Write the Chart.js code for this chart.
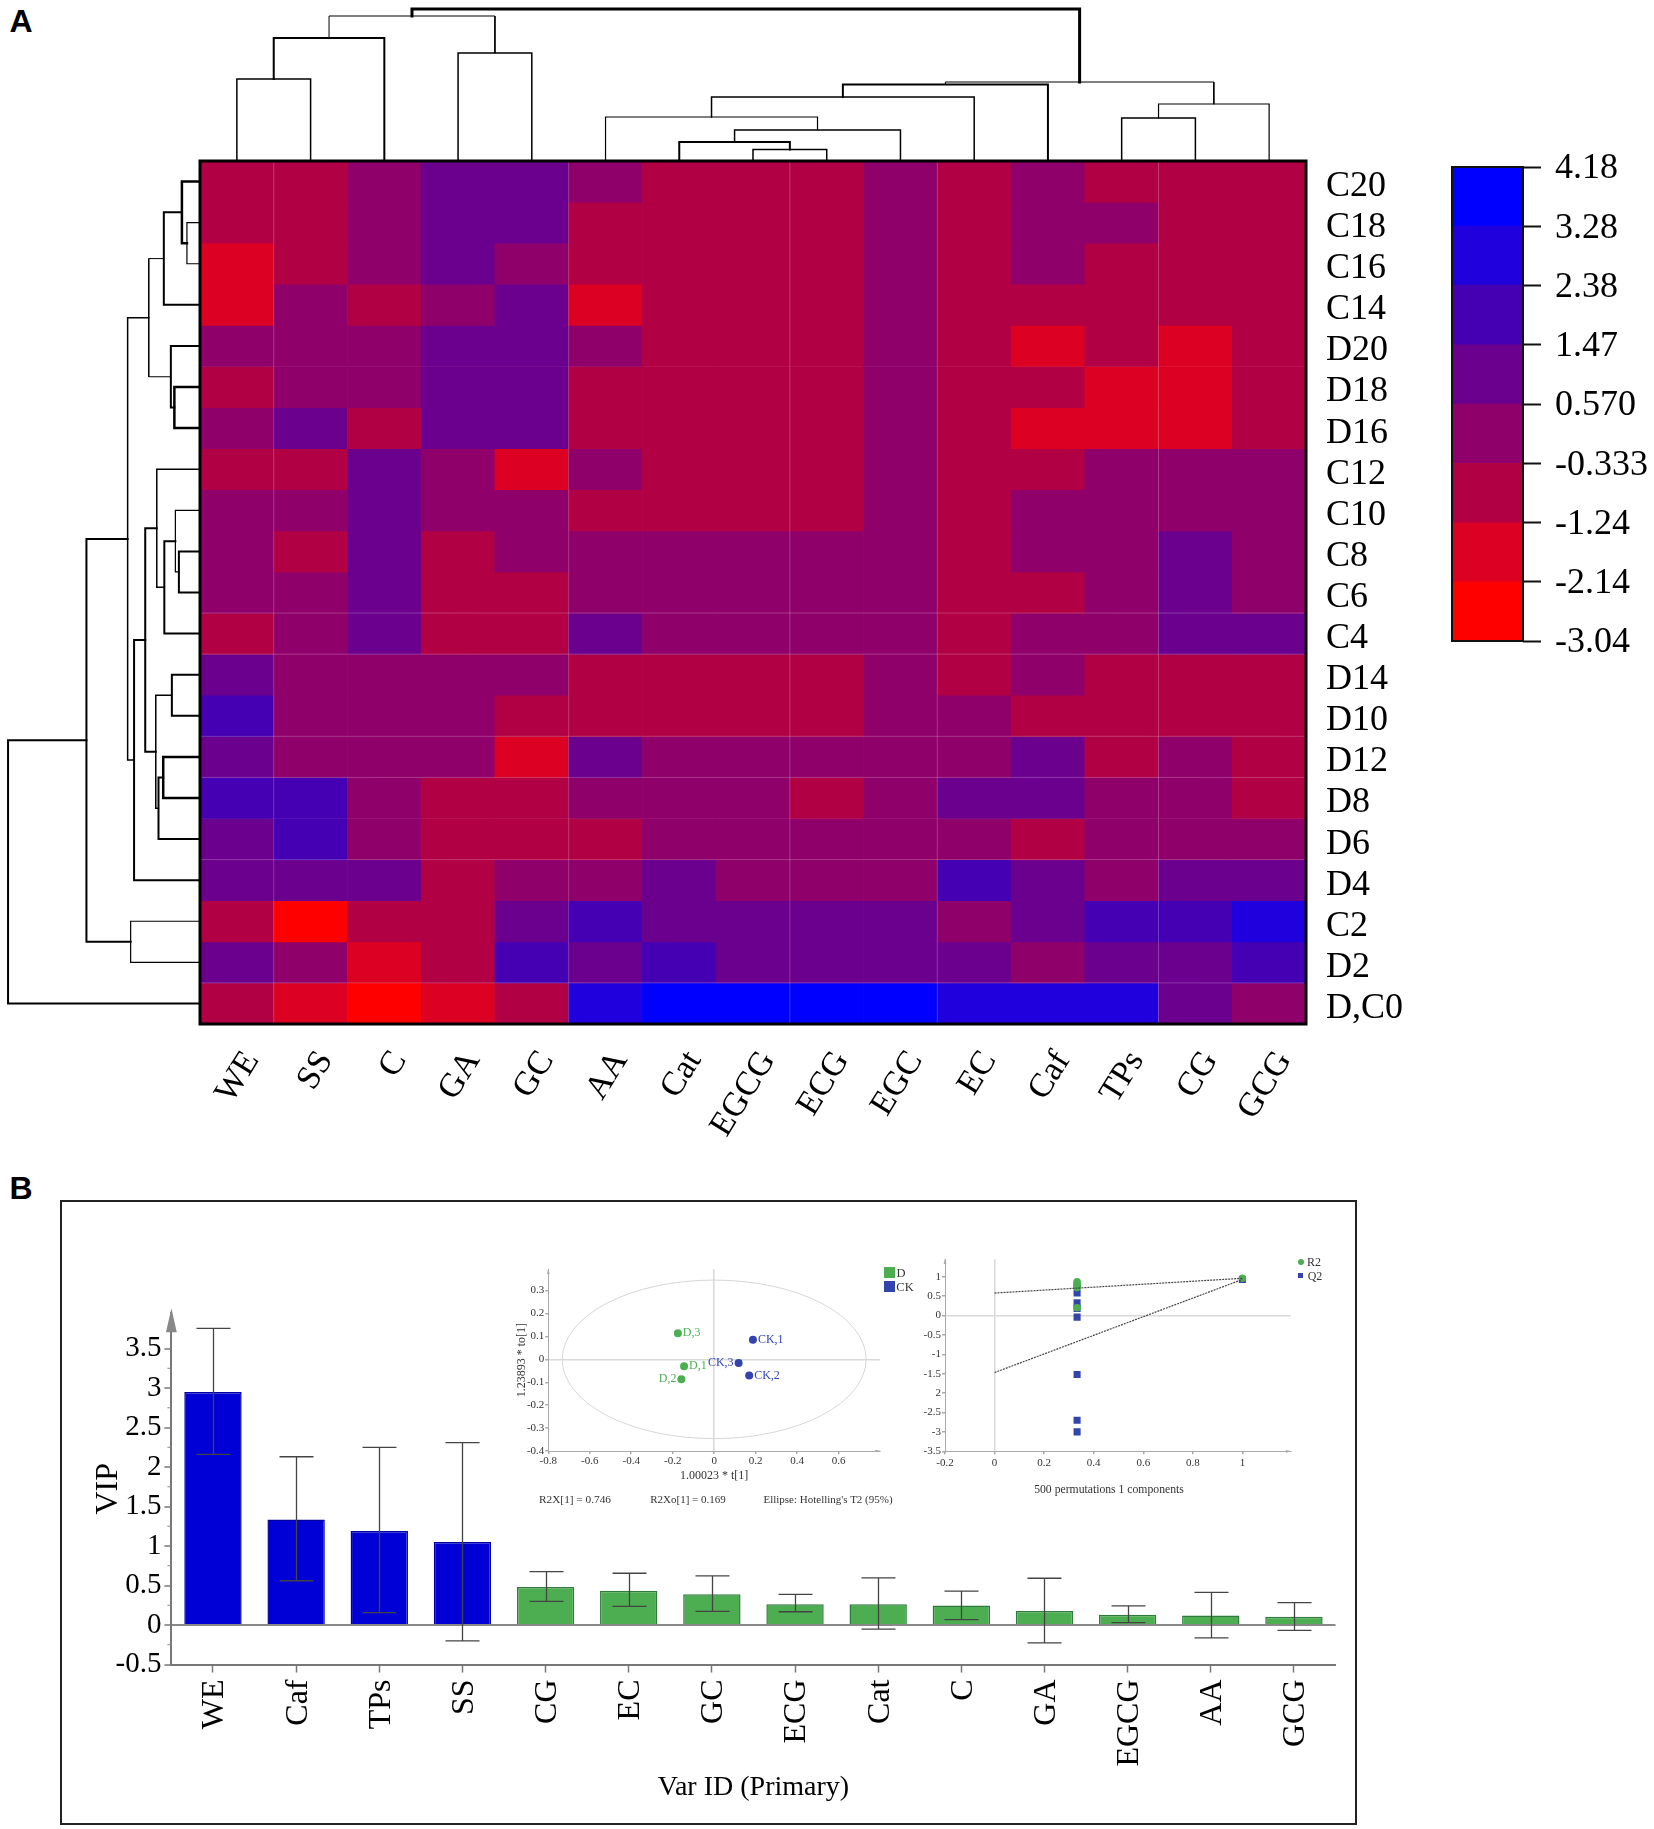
<!DOCTYPE html>
<html>
<head>
<meta charset="utf-8">
<title>Heatmap and VIP</title>
<style>
  html, body { margin: 0; padding: 0; background: #fff; }
  #page { position: relative; width: 1654px; height: 1829px; overflow: hidden; background: #fff; }
  #page canvas { position: absolute; }
  .txt { position: absolute; white-space: nowrap; transform: translate(-50%, -50%); }
  .box { position: absolute; }
</style>
<script src="https://cdn.jsdelivr.net/npm/chart.js@4/dist/chart.umd.js"></script>
</head>
<body>
<div id="page"></div>
<script>
// panel A data
const colLabels = ["WE", "SS", "C", "GA", "GC", "AA", "Cat", "EGCG", "ECG", "EGC", "EC", "Caf", "TPs", "CG", "GCG"];
const rowLabels = ["C20", "C18", "C16", "C14", "D20", "D18", "D16", "C12", "C10", "C8", "C6", "C4", "D14", "D10", "D12", "D8", "D6", "D4", "C2", "D2", "D,C0"];
// cell values, estimated from the colour bin each cell falls in
const heatValues = [
  [-0.8, -0.8, 0.1, 1, 1, 0.1, -0.8, -0.8, -0.8, 0.1, -0.8, 0.1, -0.8, -0.8, -0.8],
  [-0.8, -0.8, 0.1, 1, 1, -0.8, -0.8, -0.8, -0.8, 0.1, -0.8, 0.1, 0.1, -0.8, -0.8],
  [-1.7, -0.8, 0.1, 1, 0.1, -0.8, -0.8, -0.8, -0.8, 0.1, -0.8, 0.1, -0.8, -0.8, -0.8],
  [-1.7, 0.1, -0.8, 0.1, 1, -1.7, -0.8, -0.8, -0.8, 0.1, -0.8, -0.8, -0.8, -0.8, -0.8],
  [0.1, 0.1, 0.1, 1, 1, 0.1, -0.8, -0.8, -0.8, 0.1, -0.8, -1.7, -0.8, -1.7, -0.8],
  [-0.8, 0.1, 0.1, 1, 1, -0.8, -0.8, -0.8, -0.8, 0.1, -0.8, -0.8, -1.7, -1.7, -0.8],
  [0.1, 1, -0.8, 1, 1, -0.8, -0.8, -0.8, -0.8, 0.1, -0.8, -1.7, -1.7, -1.7, -0.8],
  [-0.8, -0.8, 1, 0.1, -1.7, 0.1, -0.8, -0.8, -0.8, 0.1, -0.8, -0.8, 0.1, 0.1, 0.1],
  [0.1, 0.1, 1, 0.1, 0.1, -0.8, -0.8, -0.8, -0.8, 0.1, -0.8, 0.1, 0.1, 0.1, 0.1],
  [0.1, -0.8, 1, -0.8, 0.1, 0.1, 0.1, 0.1, 0.1, 0.1, -0.8, 0.1, 0.1, 1, 0.1],
  [0.1, 0.1, 1, -0.8, -0.8, 0.1, 0.1, 0.1, 0.1, 0.1, -0.8, -0.8, 0.1, 1, 0.1],
  [-0.8, 0.1, 1, -0.8, -0.8, 1, 0.1, 0.1, 0.1, 0.1, -0.8, 0.1, 0.1, 1, 1],
  [1, 0.1, 0.1, 0.1, 0.1, -0.8, -0.8, -0.8, -0.8, 0.1, -0.8, 0.1, -0.8, -0.8, -0.8],
  [1.9, 0.1, 0.1, 0.1, -0.8, -0.8, -0.8, -0.8, -0.8, 0.1, 0.1, -0.8, -0.8, -0.8, -0.8],
  [1, 0.1, 0.1, 0.1, -1.7, 1, 0.1, 0.1, 0.1, 0.1, 0.1, 1, -0.8, 0.1, -0.8],
  [1.9, 1.9, 0.1, -0.8, -0.8, 0.1, 0.1, 0.1, -0.8, 0.1, 1, 1, 0.1, 0.1, -0.8],
  [1, 1.9, 0.1, -0.8, -0.8, -0.8, 0.1, 0.1, 0.1, 0.1, 0.1, -0.8, 0.1, 0.1, 0.1],
  [1, 1, 1, -0.8, 0.1, 0.1, 1, 0.1, 0.1, 0.1, 1.9, 1, 0.1, 1, 1],
  [-0.8, -2.6, -0.8, -0.8, 1, 1.9, 1, 1, 1, 1, 0.1, 1, 1.9, 1.9, 2.8],
  [1, 0.1, -1.7, -0.8, 1.9, 1, 1.9, 1, 1, 1, 1, 0.1, 1, 1, 1.9],
  [-0.8, -1.7, -2.6, -1.7, -0.8, 2.8, 3.7, 3.7, 3.7, 3.7, 2.8, 2.8, 2.8, 1, 0.1]
];
const binEdges = [-3.04, -2.14, -1.24, -0.333, 0.57, 1.47, 2.38, 3.28, 4.18];
const binLabels = ["-3.04", "-2.14", "-1.24", "-0.333", "0.570", "1.47", "2.38", "3.28", "4.18"];
const binColors = ["#ff0000", "#dc0022", "#b20045", "#90006a", "#6c008e", "#4400b2", "#2000dc", "#0000ff"];
const heatLineCols = [1, 5, 8, 10, 13];
const heatLineRows = [11, 12, 14, 15, 17, 20];

// dendrograms: [a, b, height], ids past the leaf count point to earlier merges
const topMerges = [
  [7, 8, 11.5], [6, 15, 19], [16, 9, 31], [5, 17, 44], [18, 10, 64], [19, 11, 76.6],
  [12, 13, 43], [21, 14, 57], [20, 22, 79], [0, 1, 82], [24, 2, 123], [3, 4, 108],
  [25, 26, 145], [27, 23, 152]
];
const topWidths = [1.5, 2, 1.5, 1.2, 1.5, 2, 1.5, 1.2, 1, 1.5, 2, 1.5, 1, 3];
const leftMerges = [
  [1, 2, 13], [0, 21, 18], [22, 3, 36], [5, 6, 25.5], [4, 24, 29], [23, 25, 51],
  [9, 10, 21], [8, 27, 24.5], [28, 11, 35.5], [7, 29, 43], [12, 13, 28], [14, 15, 36.6],
  [32, 16, 41.3], [31, 33, 44], [30, 34, 54.5], [35, 17, 65.6], [26, 36, 72], [18, 19, 69],
  [37, 38, 113], [39, 20, 191]
];
const leftWidths = [1.2, 2.5, 2, 2.5, 2, 1, 2, 1.2, 2, 1.5, 2, 2.5, 2, 1.5, 2, 2, 1.5, 1.2, 2, 2];

// panel B data
const vipLabels = ["WE", "Caf", "TPs", "SS", "CG", "EC", "GC", "ECG", "Cat", "C", "GA", "EGCG", "AA", "GCG"];
const vipValues = [2.95, 1.336, 1.19, 1.05, 0.48, 0.435, 0.39, 0.262, 0.262, 0.246, 0.178, 0.131, 0.12, 0.105];
const vipHigh = [3.756, 2.13, 2.25, 2.31, 0.676, 0.655, 0.623, 0.388, 0.597, 0.43, 0.592, 0.241, 0.414, 0.283];
const vipLow = [2.16, 0.56, 0.157, -0.2, 0.3, 0.236, 0.173, 0.168, -0.052, 0.068, -0.225, 0.031, -0.162, -0.068];
const vipBlueCount = 4;
const vipTicks = [-0.5, 0, 0.5, 1, 1.5, 2, 2.5, 3, 3.5];
const vipMinorTicks = [-0.25, 0.25, 0.75, 1.25, 1.75, 2.25, 2.75, 3.25, 3.75];

const scoreD = [{ x: -0.145, y: -0.03 }, { x: -0.158, y: -0.087 }, { x: -0.175, y: 0.114 }];
const scoreDNames = ["D,1", "D,2", "D,3"];
const scoreCK = [{ x: 0.187, y: 0.086 }, { x: 0.169, y: -0.071 }, { x: 0.118, y: -0.016 }];
const scoreCKNames = ["CK,1", "CK,2", "CK,3"];
const scoreLeftLabels = ["D,2", "CK,3"];
const ellipseRadii = [0.733, 0.346];
const scoreXTicks = [-0.8, -0.6, -0.4, -0.2, 0, 0.2, 0.4, 0.6];
const scoreYTicks = [-0.4, -0.3, -0.2, -0.1, 0, 0.1, 0.2, 0.3];

const permR2 = [{ x: 0.333, y: 0.87 }, { x: 0.333, y: 0.82 }, { x: 0.333, y: 0.78 }, { x: 0.333, y: 0.75 }, { x: 0.333, y: 0.72 }, { x: 0.333, y: 0.2 }, { x: 1, y: 0.96 }];
const permQ2 = [{ x: 0.333, y: 0.58 }, { x: 0.333, y: 0.33 }, { x: 0.333, y: 0.18 }, { x: 0.333, y: -0.04 }, { x: 0.333, y: -1.52 }, { x: 0.333, y: -2.7 }, { x: 0.333, y: -3 }, { x: 1, y: 0.93 }];
const permR2Line = [{ x: 0, y: 0.58 }, { x: 1, y: 0.96 }];
const permQ2Line = [{ x: 0, y: -1.47 }, { x: 1, y: 0.93 }];
const permXTicks = [-0.2, 0, 0.2, 0.4, 0.6, 0.8, 1];
const permYTicks = [1, 0.5, 0, -0.5, -1, -1.5, -2, -2.5, -3, -3.5];
const permYLabels = ["1", "0.5", "0", "-0.5", "-1", "-1.5", "2", "-2.5", "-3", "-3.5"];

const SERIF = '"Liberation Serif"';
const GREEN = "#4cae50";
const BLUE2 = "#3344aa";
const page = document.getElementById("page");

Chart.defaults.animation = false;
Chart.defaults.responsive = false;
Chart.defaults.maintainAspectRatio = false;
Chart.defaults.font.family = SERIF;
Chart.defaults.color = "#000";
Chart.defaults.plugins.legend.display = false;
Chart.defaults.plugins.tooltip.enabled = false;

function makeCanvas(left, top, width, height) {
  var c = document.createElement("canvas");
  c.width = width;
  c.height = height;
  c.style.left = left + "px";
  c.style.top = top + "px";
  c.style.width = width + "px";
  c.style.height = height + "px";
  page.appendChild(c);
  return c;
}

function addText(text, x, y, font, color, rotate) {
  var d = document.createElement("div");
  d.className = "txt";
  d.textContent = text;
  d.style.left = x + "px";
  d.style.top = y + "px";
  d.style.font = font;
  d.style.color = color || "#000";
  if (rotate) d.style.transform = "translate(-50%, -50%) rotate(" + rotate + "deg)";
  page.appendChild(d);
}

function addBox(left, top, width, height, css) {
  var d = document.createElement("div");
  d.className = "box";
  d.style.left = left + "px";
  d.style.top = top + "px";
  d.style.width = width + "px";
  d.style.height = height + "px";
  d.style.cssText += css;
  page.appendChild(d);
}

// axes keep a fixed size so chart areas land where they should
function fixSize(prop, size) {
  return function (scale) {
    scale[prop] = size;
    scale.paddingLeft = 0;
    scale.paddingRight = 0;
    scale.paddingTop = 0;
    scale.paddingBottom = 0;
  };
}
function useTicks(values) {
  return function (scale) {
    scale.ticks = values.map((v) => ({ value: v }));
  };
}

function binColor(v) {
  for (var i = 0; i < binColors.length; i++) {
    if (v < binEdges[i + 1]) return binColors[i];
  }
  return binColors[binColors.length - 1];
}

// turn a merge list into one line dataset per link
function dendroDatasets(merges, widths, leafCount, sideways) {
  var pos = [];
  var height = [];
  for (var i = 0; i < leafCount; i++) {
    pos.push(i);
    height.push(0);
  }
  return merges.map(function (m, k) {
    var a = m[0], b = m[1], h = m[2];
    var path = [[pos[a], height[a]], [pos[a], h], [pos[b], h], [pos[b], height[b]]];
    pos.push((pos[a] + pos[b]) / 2);
    height.push(h);
    return {
      data: path.map((p) => (sideways ? { x: p[1], y: p[0] } : { x: p[0], y: p[1] })),
      showLine: true,
      tension: 0,
      pointRadius: 0,
      borderColor: "#000",
      borderWidth: widths[k],
      borderCapStyle: "square",
      clip: false,
    };
  });
}

// top dendrogram
new Chart(makeCanvas(200, 1, 1106, 160), {
  type: "scatter",
  data: { datasets: dendroDatasets(topMerges, topWidths, colLabels.length, false) },
  options: {
    scales: {
      x: { type: "linear", display: false, min: -0.5, max: 14.5 },
      y: { type: "linear", display: false, min: 0, max: 160 },
    },
  },
});

// left dendrogram
new Chart(makeCanvas(0, 161, 200, 863), {
  type: "scatter",
  data: { datasets: dendroDatasets(leftMerges, leftWidths, rowLabels.length, true) },
  options: {
    scales: {
      x: { type: "linear", display: false, min: 0, max: 199, reverse: true },
      y: { type: "linear", display: false, min: -0.5, max: 20.5, reverse: true },
    },
  },
});

// heatmap, stacked bars with one dataset per row
const heatFrame = {
  id: "heatFrame",
  afterDatasetsDraw(chart) {
    var ctx = chart.ctx, a = chart.chartArea;
    var x = chart.scales.x, y = chart.scales.y;
    ctx.save();
    ctx.strokeStyle = "rgba(255,255,255,0.22)";
    ctx.lineWidth = 1;
    heatLineCols.forEach(function (c) {
      var px = (x.getPixelForValue(c - 1) + x.getPixelForValue(c)) / 2;
      ctx.beginPath();
      ctx.moveTo(px, a.top);
      ctx.lineTo(px, a.bottom);
      ctx.stroke();
    });
    heatLineRows.forEach(function (r) {
      var py = y.getPixelForValue(r);
      ctx.beginPath();
      ctx.moveTo(a.left, py);
      ctx.lineTo(a.right, py);
      ctx.stroke();
    });
    ctx.strokeStyle = "#000";
    ctx.lineWidth = 3;
    ctx.strokeRect(a.left, a.top, a.right - a.left, a.bottom - a.top);
    ctx.restore();
  },
};
new Chart(makeCanvas(190, 151, 1230, 1005), {
  type: "bar",
  data: {
    labels: colLabels,
    datasets: heatValues.map((row, i) => ({
      label: rowLabels[i],
      data: row.map(() => 1),
      backgroundColor: row.map(binColor),
      borderWidth: 0,
      barPercentage: 1,
      categoryPercentage: 1,
    })),
  },
  options: {
    layout: { padding: { left: 10, top: 10 } },
    scales: {
      x: {
        stacked: true,
        grid: { display: false },
        border: { display: false },
        ticks: { autoSkip: false, minRotation: 58, maxRotation: 58, padding: 12, labelOffset: 15, font: { size: 34 } },
        afterFit: fixSize("height", 132),
      },
      y: {
        type: "linear",
        position: "right",
        stacked: true,
        reverse: true,
        min: 0,
        max: rowLabels.length,
        grid: { display: false },
        border: { display: false },
        afterBuildTicks: useTicks(rowLabels.map((l, i) => i + 0.5)),
        ticks: { autoSkip: false, padding: 12, labelOffset: 5, font: { size: 36 }, callback: (v) => rowLabels[v - 0.5] },
        afterFit: fixSize("width", 114),
      },
    },
  },
  plugins: [heatFrame],
});

// colour bar
const barFrame = {
  id: "barFrame",
  afterDatasetsDraw(chart) {
    var ctx = chart.ctx, a = chart.chartArea;
    ctx.save();
    ctx.strokeStyle = "#111";
    ctx.lineWidth = 2;
    ctx.strokeRect(a.left, a.top, a.right - a.left, a.bottom - a.top);
    ctx.restore();
  },
};
new Chart(makeCanvas(1440, 137, 214, 534), {
  type: "bar",
  data: {
    labels: [""],
    datasets: binColors.map((col, i) => ({
      data: [[binEdges[i], binEdges[i + 1]]],
      backgroundColor: col,
      borderWidth: 0,
      barPercentage: 1,
      categoryPercentage: 1,
    })),
  },
  options: {
    layout: { padding: { left: 12, top: 30, bottom: 30 } },
    datasets: { bar: { grouped: false } },
    scales: {
      x: { display: false },
      y: {
        position: "right",
        min: binEdges[0],
        max: binEdges[binEdges.length - 1],
        grid: { drawOnChartArea: false, tickLength: 18, tickWidth: 2, tickColor: "#111" },
        border: { display: false },
        afterBuildTicks: useTicks(binEdges),
        ticks: {
          autoSkip: false,
          padding: 14,
          labelOffset: 2,
          font: { size: 36 },
          callback: (v) => binLabels[binEdges.indexOf(v)],
        },
        afterFit: fixSize("width", 131),
      },
    },
  },
  plugins: [barFrame],
});

// small ticks and axis arrows shared by the lower charts
function axisExtras(color, xMinor, yMinor, minorLen, arrowSize, withXArrow) {
  return {
    id: "axisExtras",
    afterDraw(chart) {
      var ctx = chart.ctx, a = chart.chartArea;
      ctx.save();
      ctx.strokeStyle = color;
      ctx.fillStyle = color;
      ctx.lineWidth = 1;
      yMinor.forEach(function (v) {
        var py = chart.scales.y.getPixelForValue(v);
        ctx.beginPath();
        ctx.moveTo(a.left - minorLen, py);
        ctx.lineTo(a.left, py);
        ctx.stroke();
      });
      xMinor.forEach(function (v) {
        var px = chart.scales.x.getPixelForValue(v);
        ctx.beginPath();
        ctx.moveTo(px, a.bottom);
        ctx.lineTo(px, a.bottom + minorLen);
        ctx.stroke();
      });
      ctx.beginPath();
      ctx.moveTo(a.left, a.top - arrowSize * 0.4);
      ctx.lineTo(a.left - arrowSize * 0.45, a.top + arrowSize * 1.6);
      ctx.lineTo(a.left + arrowSize * 0.45, a.top + arrowSize * 1.6);
      ctx.closePath();
      ctx.fill();
      if (withXArrow) {
        ctx.beginPath();
        ctx.moveTo(a.right + arrowSize * 0.4, a.bottom);
        ctx.lineTo(a.right - arrowSize * 1.6, a.bottom - arrowSize * 0.45);
        ctx.lineTo(a.right - arrowSize * 1.6, a.bottom + arrowSize * 0.45);
        ctx.closePath();
        ctx.fill();
      }
      ctx.restore();
    },
  };
}

// panel B frame
addBox(60, 1200, 1293, 621, "border:2px solid #222;box-sizing:content-box;");

// VIP bars with error whiskers
const vipWhiskers = {
  id: "vipWhiskers",
  afterDatasetsDraw(chart) {
    var ctx = chart.ctx, x = chart.scales.x, y = chart.scales.y;
    ctx.save();
    ctx.strokeStyle = "#444";
    ctx.lineWidth = 1.3;
    vipLabels.forEach(function (l, i) {
      var px = Math.round(x.getPixelForValue(i)) + 0.5;
      var hi = y.getPixelForValue(vipHigh[i]);
      var lo = y.getPixelForValue(vipLow[i]);
      ctx.beginPath();
      ctx.moveTo(px, hi);
      ctx.lineTo(px, lo);
      ctx.moveTo(px - 17, hi);
      ctx.lineTo(px + 17, hi);
      ctx.moveTo(px - 17, lo);
      ctx.lineTo(px + 17, lo);
      ctx.stroke();
    });
    ctx.restore();
  },
};
new Chart(makeCanvas(64, 1290, 1281, 525), {
  type: "bar",
  data: {
    labels: vipLabels,
    datasets: [
      {
        data: vipValues,
        backgroundColor: vipValues.map((v, i) => (i < vipBlueCount ? "#0000d6" : GREEN)),
        borderColor: vipValues.map((v, i) => (i < vipBlueCount ? "#0000a0" : "#2f7a3c")),
        borderWidth: 1.5,
        barPercentage: 0.69,
        categoryPercentage: 1,
      },
    ],
  },
  options: {
    layout: { padding: { top: 23, right: 9.5 } },
    scales: {
      x: {
        grid: { offset: false, drawOnChartArea: false, tickLength: 8, tickColor: "#777", tickWidth: 1.5 },
        border: { color: "#777", width: 2 },
        ticks: { autoSkip: false, minRotation: 90, maxRotation: 90, padding: 7, labelOffset: 2, font: { size: 32 } },
        title: { display: true, text: "Var ID (Primary)", font: { size: 28 }, padding: { top: 0, bottom: 11 } },
        afterFit: fixSize("height", 150.5),
      },
      y: {
        min: -0.5,
        max: 3.95,
        grid: {
          color: (c) => (c.tick && c.tick.value === 0 ? "#888" : "rgba(0,0,0,0)"),
          lineWidth: 2,
          tickColor: "#777",
          tickLength: 7,
          tickWidth: 1.5,
        },
        border: { color: "#777", width: 2 },
        afterBuildTicks: useTicks(vipTicks),
        ticks: { autoSkip: false, padding: 3, font: { size: 29 }, callback: (v) => String(v) },
        title: { display: true, text: "VIP", font: { size: 32 }, padding: { top: 25, bottom: 0 } },
        afterFit: fixSize("width", 107.4),
      },
    },
  },
  plugins: [vipWhiskers, axisExtras("#888", [], vipMinorTicks, 4, 12, false)],
});

// score plot inset
const scoreMarks = {
  id: "scoreMarks",
  beforeDatasetsDraw(chart) {
    var ctx = chart.ctx, x = chart.scales.x, y = chart.scales.y;
    var cx = x.getPixelForValue(0), cy = y.getPixelForValue(0);
    ctx.save();
    ctx.strokeStyle = "#d6d6d6";
    ctx.lineWidth = 1;
    ctx.beginPath();
    ctx.ellipse(cx, cy, x.getPixelForValue(ellipseRadii[0]) - cx, cy - y.getPixelForValue(ellipseRadii[1]), 0, 0, Math.PI * 2);
    ctx.stroke();
    ctx.restore();
  },
  afterDatasetsDraw(chart) {
    var ctx = chart.ctx;
    ctx.save();
    ctx.font = "12px " + SERIF;
    ctx.textBaseline = "middle";
    chart.data.datasets.forEach(function (ds, k) {
      ctx.fillStyle = ds.backgroundColor;
      ds.data.forEach(function (p, i) {
        var name = ds.names[i];
        var left = scoreLeftLabels.indexOf(name) >= 0;
        ctx.textAlign = left ? "right" : "left";
        ctx.fillText(name, chart.scales.x.getPixelForValue(p.x) + (left ? -5 : 5), chart.scales.y.getPixelForValue(p.y));
      });
    });
    ctx.restore();
  },
};
function lightZero(c) {
  return c.tick && c.tick.value === 0 ? "#d9d9d9" : "rgba(0,0,0,0)";
}
new Chart(makeCanvas(505, 1260, 390, 225), {
  type: "scatter",
  data: {
    datasets: [
      { data: scoreD, names: scoreDNames, backgroundColor: GREEN, borderWidth: 0, pointRadius: 4 },
      { data: scoreCK, names: scoreCKNames, backgroundColor: BLUE2, borderWidth: 0, pointRadius: 4 },
    ],
  },
  options: {
    layout: { padding: { top: 9.3, right: 15 } },
    scales: {
      x: {
        min: -0.8,
        max: 0.8,
        grid: { color: lightZero, lineWidth: 1.5, tickColor: "#aaa", tickLength: 3 },
        border: { color: "#aaa" },
        afterBuildTicks: useTicks(scoreXTicks),
        ticks: { autoSkip: false, padding: 1, font: { size: 11 }, color: "#333", callback: (v) => String(v) },
        title: { display: true, text: "1.00023 * t[1]", font: { size: 12 }, color: "#333", padding: { top: 0, bottom: 2 } },
        afterFit: fixSize("height", 34),
      },
      y: {
        min: -0.4,
        max: 0.393,
        grid: { color: lightZero, lineWidth: 1.5, tickColor: "#aaa", tickLength: 3 },
        border: { color: "#aaa" },
        afterBuildTicks: useTicks(scoreYTicks),
        ticks: { autoSkip: false, padding: 1, font: { size: 11 }, color: "#333", callback: (v) => String(v) },
        title: { display: true, text: "1.23893 * to[1]", font: { size: 12 }, color: "#333", padding: { top: 10, bottom: 0 } },
        afterFit: fixSize("width", 43.3),
      },
    },
  },
  plugins: [scoreMarks, axisExtras("#aaa", [], [], 2, 3, true)],
});

// permutation inset
new Chart(makeCanvas(900, 1250, 400, 225), {
  type: "scatter",
  data: {
    datasets: [
      { data: permR2Line, showLine: true, tension: 0, pointRadius: 0, borderColor: "#444", borderWidth: 1.2, borderDash: [2, 1] },
      { data: permQ2Line, showLine: true, tension: 0, pointRadius: 0, borderColor: "#444", borderWidth: 1.2, borderDash: [2, 1] },
      { data: permR2, backgroundColor: GREEN, borderWidth: 0, pointRadius: 3.8 },
      { data: permQ2, backgroundColor: BLUE2, borderWidth: 0, pointStyle: "rect", pointRadius: 5 },
    ],
  },
  options: {
    layout: { padding: { top: 9.3, right: 9.3 } },
    scales: {
      x: {
        min: -0.2,
        max: 1.195,
        grid: { color: lightZero, lineWidth: 1.5, tickColor: "#aaa", tickLength: 3 },
        border: { color: "#aaa" },
        afterBuildTicks: useTicks(permXTicks),
        ticks: { autoSkip: false, padding: 2, font: { size: 11 }, color: "#333", callback: (v) => String(v) },
        afterFit: fixSize("height", 23.7),
      },
      y: {
        min: -3.5,
        max: 1.45,
        grid: { color: lightZero, lineWidth: 1.5, tickColor: "#aaa", tickLength: 3 },
        border: { color: "#aaa" },
        afterBuildTicks: useTicks(permYTicks),
        ticks: { autoSkip: false, padding: 1, font: { size: 11 }, color: "#333", callback: (v) => permYLabels[permYTicks.indexOf(v)] },
        afterFit: fixSize("width", 45),
      },
    },
  },
  plugins: [axisExtras("#aaa", [], [], 2, 3, true)],
});

// panel letters
addText("A", 21, 21, 'bold 32px "Liberation Sans"');
addText("B", 21, 1188, 'bold 32px "Liberation Sans"');

// inset captions and legends
addText("R2X[1] = 0.746", 575, 1499, "11.3px " + SERIF, "#333");
addText("R2Xo[1] = 0.169", 688, 1499, "11px " + SERIF, "#333");
addText("Ellipse: Hotelling's T2 (95%)", 828, 1499, "11px " + SERIF, "#333");
addText("500 permutations 1 components", 1109, 1489, "11.7px " + SERIF, "#333");

addBox(884, 1267, 11, 11, "background:" + GREEN + ";");
addBox(884, 1281, 11, 11, "background:" + BLUE2 + ";");
addText("D", 901, 1273, "12.5px " + SERIF, "#333");
addText("CK", 905, 1287, "12.5px " + SERIF, "#333");
addBox(1298, 1259, 6, 6, "background:" + GREEN + ";border-radius:50%;");
addBox(1298, 1273, 5, 5, "background:" + BLUE2 + ";");
addText("R2", 1314, 1262, "12px " + SERIF, "#333");
addText("Q2", 1315, 1276, "12px " + SERIF, "#333");
</script>
</body>
</html>
